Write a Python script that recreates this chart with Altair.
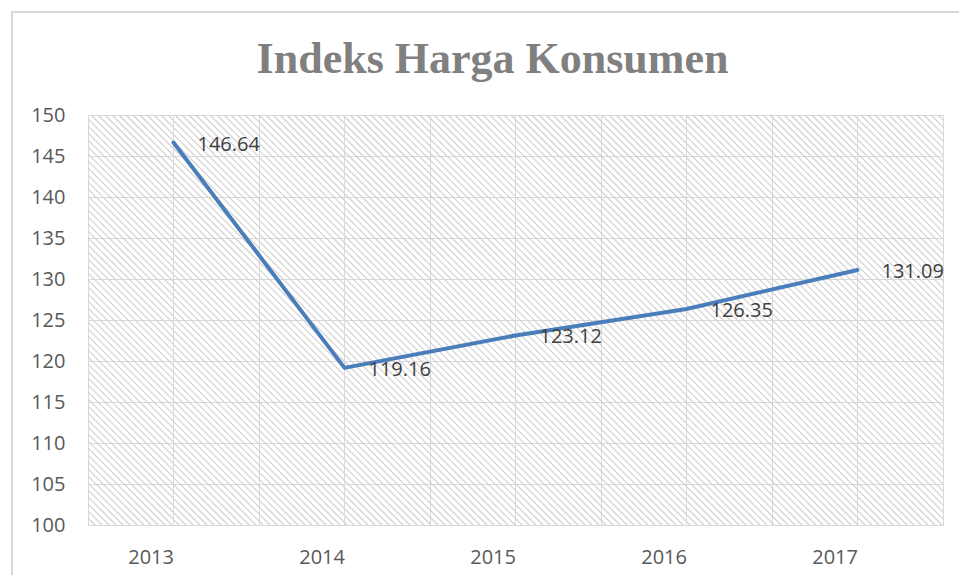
import altair as alt
import pandas as pd

years = ["2013", "2014", "2015", "2016", "2017"]
values = [146.64, 119.16, 123.12, 126.35, 131.09]
y_ticks = [100, 105, 110, 115, 120, 125, 130, 135, 140, 145, 150]

W, H = 855, 410
HATCH_STEP = 7

df = pd.DataFrame({"year": years, "value": values})
df["label"] = [f"{v:.2f}" for v in values]

font = "Open Sans"
grid_color = "#d9d9d9"

x_enc = alt.X("year:O", bandPosition=0.5,
              scale=alt.Scale(type="band", paddingInner=0, paddingOuter=0),
              axis=alt.Axis(title=None, grid=True, tickBand="extent", ticks=False,
                            domain=True, domainColor=grid_color, gridColor=grid_color,
                            labelAngle=0, labelFontSize=20, labelFont=font,
                            labelColor="#595959", labelPadding=32, labelBaseline="middle"))
y_enc = alt.Y("value:Q",
              scale=alt.Scale(domain=[100, 150], nice=False, zero=False),
              axis=alt.Axis(title=None, values=y_ticks, grid=True, gridColor=grid_color,
                            ticks=False, domain=False, labelFontSize=20, labelFont=font,
                            labelColor="#595959", labelPadding=23))

base = alt.Chart(df)

# hatch pattern for plot background
hatch = (
    alt.Chart(alt.sequence(start=-H, stop=W + HATCH_STEP, step=HATCH_STEP, as_="t"))
    .transform_calculate(t2=f"datum.t + {H}", y0="0", y1=f"{H}")
    .mark_rule(color="#d0d0d0", strokeWidth=1.2, clip=True)
    .encode(
        x=alt.X("t:Q", scale=alt.Scale(domain=[0, W], nice=False, zero=False), axis=None),
        x2="t2:Q",
        y=alt.Y("y0:Q", scale=alt.Scale(domain=[0, H], nice=False, zero=False, reverse=True), axis=None),
        y2="y1:Q",
    )
)

center_grid = base.mark_rule(color=grid_color, strokeWidth=1).encode(
    x=alt.X("year:O", bandPosition=0.5)
)

line = base.mark_line(color="#4a7ebb", strokeWidth=4, strokeCap="round", strokeJoin="round").encode(
    x=x_enc, y=y_enc
)

labels = base.mark_text(align="left", baseline="middle", dx=24, dy=2, fontSize=20,
                        font=font, color="#404040").encode(
    x=alt.X("year:O", bandPosition=0.5), y="value:Q", text="label:N"
)

frame = alt.Chart(alt.Data(values=[{}])).mark_rect(
    fill="transparent", stroke="#d9d9d9", strokeWidth=2
).encode(
    x=alt.value(-76), x2=alt.value(900), y=alt.value(-103), y2=alt.value(500)
)

main = alt.layer(center_grid, line, labels)

chart = (
    alt.layer(hatch, main, frame)
    .resolve_scale(x="independent", y="independent")
    .properties(
        width=W, height=H,
        title=alt.Title("Indeks Harga Konsumen", font="Liberation Serif", fontSize=44,
                        fontWeight="bold", color="#808080", anchor="middle",
                        baseline="alphabetic", offset=-106, dx=-23),
        autosize=alt.AutoSizeParams(type="none"),
        padding={"left": 80, "top": 107, "right": 16, "bottom": 50},
    )
    .configure_view(stroke=None)
)

chart.save("out.html", embed_options={"renderer": "svg", "actions": False})
